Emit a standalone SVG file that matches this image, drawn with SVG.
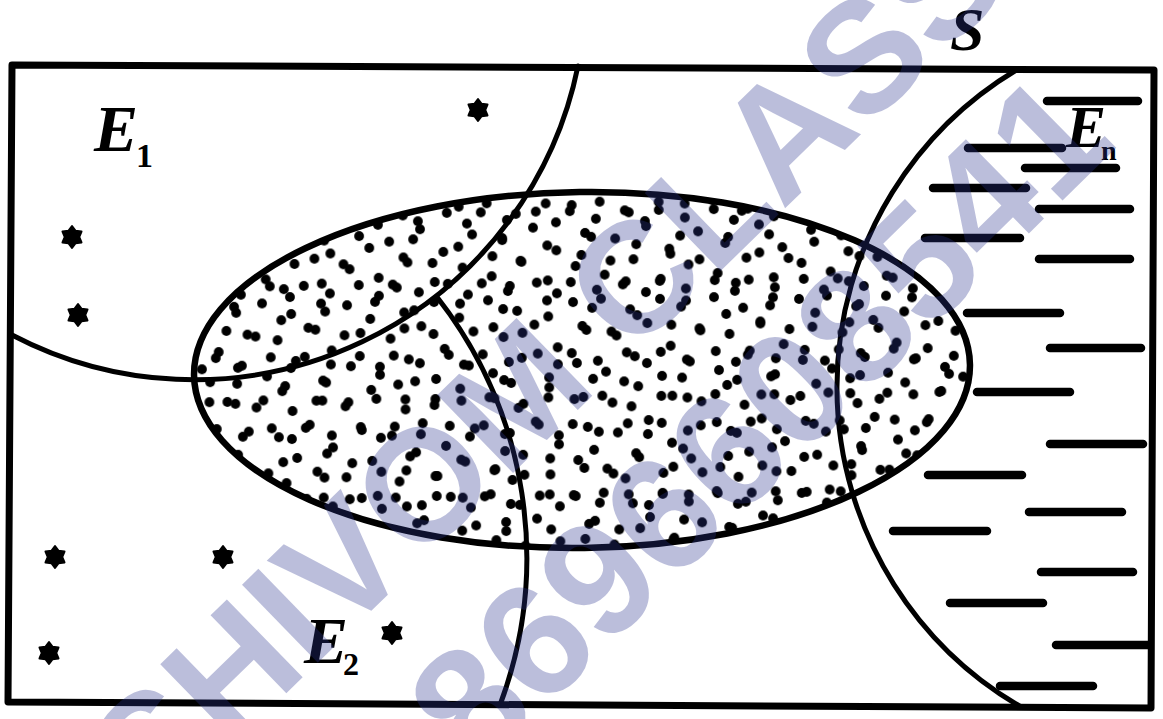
<svg xmlns="http://www.w3.org/2000/svg" xmlns:xlink="http://www.w3.org/1999/xlink" width="1163" height="719" viewBox="0 0 1163 719">
<style>
.ln{fill:none;stroke:#000;stroke-linecap:round;stroke-linejoin:round}
.lab{font-family:"Liberation Serif","Times New Roman",serif;font-weight:bold;font-style:italic;fill:#000}
.sub{font-family:"Liberation Serif","Times New Roman",serif;font-weight:bold;fill:#000}
.dash{stroke:#000;stroke-width:8.5;stroke-linecap:round}
.wm{font-family:"Liberation Sans",Arial,sans-serif;font-weight:bold;fill:#2a3590;fill-opacity:0.32}
</style>
<defs>
<pattern id="dotsA" patternUnits="userSpaceOnUse" width="113" height="97">
<g fill="#000">
<circle cx="9" cy="11" r="4.9"/><circle cx="37" cy="8" r="4.9"/><circle cx="66" cy="19" r="4.9"/><circle cx="96" cy="9" r="4.9"/>
<circle cx="22" cy="39" r="4.9"/><circle cx="52" cy="45" r="4.9"/><circle cx="83" cy="33" r="4.9"/><circle cx="106" cy="56" r="4.9"/>
<circle cx="12" cy="72" r="4.9"/><circle cx="41" cy="81" r="4.9"/><circle cx="70" cy="66" r="4.9"/><circle cx="97" cy="86" r="4.9"/>
<circle cx="59" cy="91" r="4.9"/>
</g>
</pattern>
<pattern id="dotsB" patternUnits="userSpaceOnUse" width="89" height="71" x="31" y="17">
<g fill="#000">
<circle cx="18" cy="25" r="4.9"/><circle cx="47" cy="31" r="4.9"/><circle cx="73" cy="15" r="4.9"/><circle cx="7" cy="52" r="4.9"/>
<circle cx="33" cy="60" r="4.9"/><circle cx="62" cy="52" r="4.9"/><circle cx="82" cy="63" r="4.9"/><circle cx="28" cy="7" r="4.9"/>
</g>
</pattern>
<path id="star" d="M0,-11 L3.6,-6.2 L9.5,-5.5 L7.2,0 L9.5,5.5 L3.6,6.2 L0,11 L-3.6,6.2 L-9.5,5.5 L-7.2,0 L-9.5,-5.5 L-3.6,-6.2 Z" fill="#000" stroke="#000" stroke-width="2" stroke-linejoin="round"/>
</defs>
<rect width="1163" height="719" fill="#fff"/>

<g id="central-event">
<g transform="rotate(-0.8 582 370)">
<ellipse cx="582" cy="370" rx="388" ry="178" fill="url(#dotsA)"/>
<ellipse cx="582" cy="370" rx="388" ry="178" fill="url(#dotsB)"/>
<ellipse cx="582" cy="370" rx="388" ry="178" class="ln" stroke-width="6.5"/>
</g>
</g>

<g id="E1">
<path class="ln" stroke-width="5" d="M578,66 A392,392 0 0 1 12,335"/>
<use href="#star" x="478" y="110"/>
<use href="#star" x="72" y="237"/>
<use href="#star" x="78" y="315"/>
<text class="lab" x="94" y="151" font-size="66">E</text>
<text class="sub" x="136" y="167" font-size="34">1</text>
</g>

<g id="E2">
<path class="ln" stroke-width="5" d="M437,297 A422,422 0 0 1 500,705"/>
<use href="#star" x="55" y="557"/>
<use href="#star" x="223" y="557"/>
<use href="#star" x="49" y="653"/>
<use href="#star" x="392" y="633"/>
<text class="lab" x="304" y="663" font-size="66">E</text>
<text class="sub" x="343" y="675" font-size="32">2</text>
</g>

<g id="En">
<path class="ln" stroke-width="5" d="M1018,69 A370,370 0 0 0 1021,707"/>
<g class="dash">
<line x1="1047" y1="101" x2="1138" y2="101"/>
<line x1="968" y1="148" x2="1062" y2="148"/>
<line x1="1025" y1="168" x2="1116" y2="168"/>
<line x1="933" y1="188" x2="1026" y2="188"/>
<line x1="1039" y1="209" x2="1130" y2="209"/>
<line x1="925" y1="238" x2="1020" y2="238"/>
<line x1="1039" y1="259" x2="1130" y2="259"/>
<line x1="967" y1="313" x2="1060" y2="313"/>
<line x1="1050" y1="348" x2="1141" y2="348"/>
<line x1="977" y1="392" x2="1070" y2="392"/>
<line x1="1050" y1="444" x2="1143" y2="444"/>
<line x1="928" y1="475" x2="1022" y2="475"/>
<line x1="1029" y1="512" x2="1122" y2="512"/>
<line x1="893" y1="531" x2="987" y2="531"/>
<line x1="1041" y1="572" x2="1133" y2="572"/>
<line x1="950" y1="603" x2="1043" y2="603"/>
<line x1="1056" y1="645" x2="1148" y2="645"/>
<line x1="1000" y1="686" x2="1093" y2="686"/>
</g>
<text class="lab" x="1066" y="147" font-size="60">E</text>
<text class="sub" x="1101" y="160" font-size="28">n</text>
</g>

<g id="S">
<path class="ln" stroke-width="7" d="M12,65 L1154,70 L1151,708 L8,702 Z"/>
<text class="lab" x="950" y="50" font-size="62">S</text>
</g>

<g id="watermark">
<text class="wm" transform="translate(153,823) rotate(-44.2)" font-size="158">SHIVOM CLASSES</text>
<text class="wm" transform="translate(477,776) rotate(-44.5)" font-size="162">8696608541</text>
</g>
</svg>
